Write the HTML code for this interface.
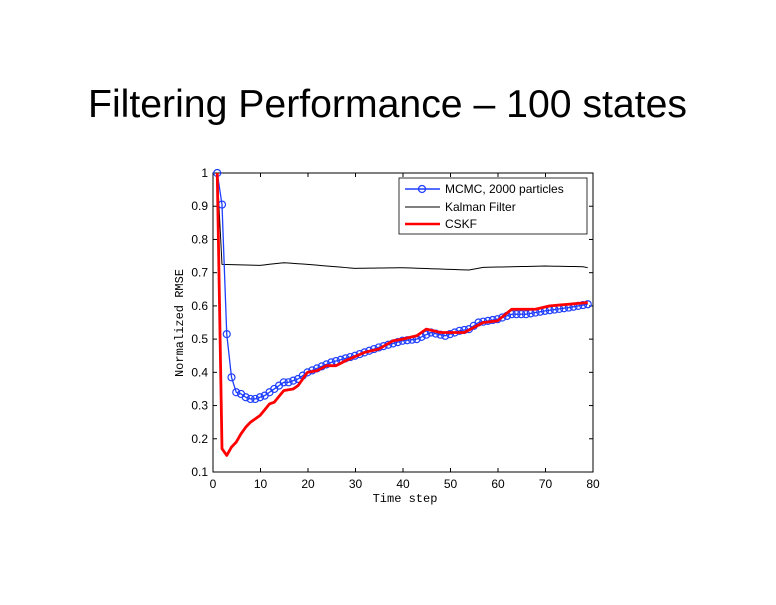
<!DOCTYPE html>
<html><head><style>
body{margin:0;background:#fff;}
</style></head><body>
<svg width="776" height="600" xmlns="http://www.w3.org/2000/svg" id="s">
<text x="88" y="117" textLength="599" lengthAdjust="spacingAndGlyphs" font-family="Liberation Sans, sans-serif" font-size="39" fill="#000">Filtering Performance – 100 states</text>
<rect x="213" y="173" width="380" height="299" fill="none" stroke="#000" stroke-width="1"/>
<g id="ax" font-family="Liberation Sans, sans-serif" font-size="12" fill="#000"></g>
<text x="405" y="502" text-anchor="middle" font-family="Liberation Mono, monospace" font-size="12">Time step</text>
<text transform="translate(183,323) rotate(-90)" text-anchor="middle" font-family="Liberation Mono, monospace" font-size="12">Normalized RMSE</text>
<g id="data"></g>
<rect x="399" y="178" width="188" height="56" fill="#fff" stroke="#000" stroke-width="0.8"/>
<line x1="405" y1="189" x2="440" y2="189" stroke="#1f3fff" stroke-width="1.5"/>
<circle cx="422" cy="189" r="3.5" fill="none" stroke="#1f3fff" stroke-width="1.3"/>
<text x="445" y="193" font-family="Liberation Sans, sans-serif" font-size="12">MCMC, 2000 particles</text>
<line x1="405" y1="207" x2="440" y2="207" stroke="#000" stroke-width="1"/>
<text x="445" y="211" font-family="Liberation Sans, sans-serif" font-size="12">Kalman Filter</text>
<line x1="405" y1="224" x2="440" y2="224" stroke="#f00" stroke-width="2.5"/>
<text x="445" y="228" font-family="Liberation Sans, sans-serif" font-size="12">CSKF</text>
</svg>
<script>
function X(t){return 212.5+t*4.75;}
function Y(v){return 472-(v-0.1)*332.2;}
var ax=document.getElementById('ax'),h='';
for(var i=0;i<=8;i++){var x=213+i*47.5;h+='<line x1="'+x+'" y1="472" x2="'+x+'" y2="468" stroke="#000"/><line x1="'+x+'" y1="173" x2="'+x+'" y2="177" stroke="#000"/><text x="'+x+'" y="488" text-anchor="middle">'+(i*10)+'</text>';}
for(var j=1;j<=10;j++){var v=j/10,y=Y(v);h+='<line x1="213" y1="'+y+'" x2="217" y2="'+y+'" stroke="#000"/><line x1="593" y1="'+y+'" x2="589" y2="'+y+'" stroke="#000"/><text x="208" y="'+(y+4)+'" text-anchor="end">'+(j==10?'1':v.toFixed(1))+'</text>';}
ax.innerHTML=h;
function interp(k,t){for(var i=0;i<k.length-1;i++){if(t<=k[i+1][0]){var a=k[i],b=k[i+1];return a[1]+(b[1]-a[1])*(t-a[0])/(b[0]-a[0]);}}return k[k.length-1][1];}
var mc=[[1,1],[2,.905],[3,.515],[4,.385],[5,.34],[6,.335],[7,.325],[8,.32],[9,.32],[10,.325],[11,.33],[12,.34],[13,.35],[14,.36],[15,.37],[16,.37],[17,.375],[18,.38],[19,.39],[20,.40],[25,.43],[30,.45],[35,.475],[40,.495],[43,.5],[46,.52],[49,.51],[52,.525],[54,.53],[56,.55],[60,.56],[63,.575],[66,.575],[70,.585],[75,.595],[79,.605]];
var ck=[[1,1],[2,.17],[3,.15],[4,.175],[5,.19],[6,.215],[7,.235],[8,.25],[9,.26],[10,.27],[12,.305],[13,.31],[15,.345],[17,.35],[18,.36],[20,.40],[22,.405],[24,.42],[26,.42],[28,.435],[32,.46],[35,.47],[38,.495],[40,.50],[43,.51],[45,.53],[48,.52],[50,.52],[53,.52],[57,.55],[60,.555],[63,.59],[68,.59],[71,.60],[75,.605],[79,.61]];
var kf=[[1,1],[2,.725],[10,.722],[15,.73],[20,.725],[30,.713],[40,.715],[50,.71],[54,.708],[57,.716],[70,.72],[78,.718],[79,.715]];
var d='',p=function(k,c,w){var s='';for(var t=1;t<=79;t++)s+=X(t)+','+Y(interp(k,t))+' ';return '<polyline points="'+s+'" fill="none" stroke="'+c+'" stroke-width="'+w+'" stroke-linejoin="round"/>';};
d+=p(kf,'#000',1);
d+=p(mc,'#1f3fff',1.3);
for(var t=1;t<=79;t++)d+='<circle cx="'+X(t)+'" cy="'+Y(interp(mc,t))+'" r="3.5" fill="none" stroke="#1f3fff" stroke-width="1.2"/>';
d+=p(ck,'#f00',2.8);
document.getElementById('data').innerHTML=d;
</script>
</body></html>
